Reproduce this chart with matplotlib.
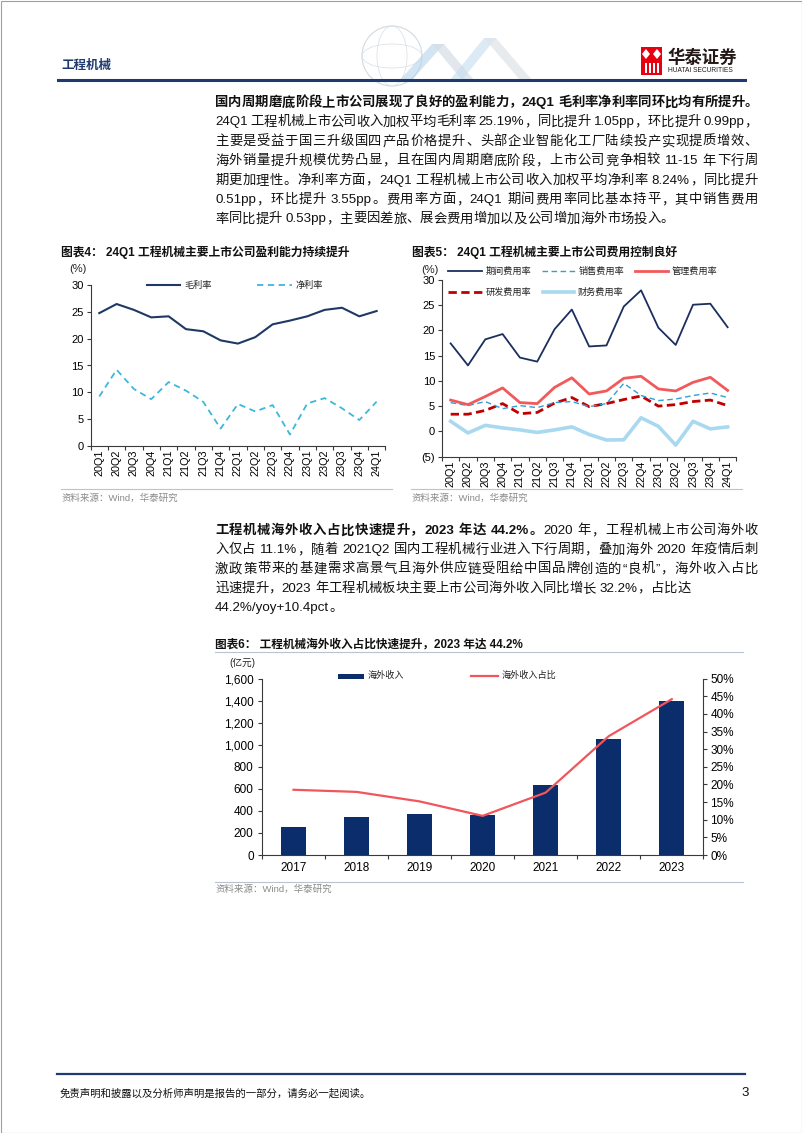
import re
import numpy as np
import matplotlib
matplotlib.use("Agg")
import matplotlib.pyplot as plt
from matplotlib.patches import Rectangle, Polygon, Circle, Ellipse
from matplotlib.lines import Line2D
from matplotlib.ticker import FixedLocator, FuncFormatter

W, H = 802, 1133
plt.rcParams['font.family'] = ['Liberation Sans', 'Noto Sans CJK SC']
plt.rcParams['axes.unicode_minus'] = False

# ---- data ----
quarters = ['20Q1', '20Q2', '20Q3', '20Q4', '21Q1', '21Q2', '21Q3', '21Q4',
            '22Q1', '22Q2', '22Q3', '22Q4', '23Q1', '23Q2', '23Q3', '23Q4', '24Q1']
gross_margin = [24.8, 26.5, 25.4, 24.0, 24.2, 21.8, 21.4, 19.7, 19.1, 20.3,
                22.7, 23.4, 24.2, 25.4, 25.8, 24.2, 25.19]
net_margin = [9.2, 14.2, 10.6, 8.7, 11.9, 10.3, 8.2, 3.2, 7.8, 6.4,
              7.6, 2.1, 7.9, 8.9, 7.0, 4.8, 8.24]

exp_total = [17.4, 13.05, 18.2, 19.25, 14.6, 13.8, 20.2, 24.1, 16.8, 17.0,
             24.7, 27.9, 20.5, 17.1, 25.05, 25.25, 20.6]
exp_sales = [5.7, 5.1, 5.9, 4.5, 5.1, 4.7, 5.7, 5.9, 4.9, 5.5,
             9.5, 7.1, 6.1, 6.4, 7.1, 7.6, 6.7]
exp_admin = [6.2, 5.3, 6.9, 8.6, 5.7, 5.5, 8.7, 10.6, 7.4, 8.0,
             10.5, 10.9, 8.4, 8.0, 9.7, 10.7, 8.1]
exp_rnd = [3.4, 3.4, 4.15, 5.5, 3.5, 3.75, 5.6, 6.7, 4.9, 5.5,
           6.3, 7.0, 5.0, 5.3, 5.9, 6.2, 5.1]
exp_fin = [2.0, -0.3, 1.2, 0.7, 0.3, -0.2, 0.3, 0.9, -0.6, -1.7,
           -1.65, 2.7, 1.0, -2.7, 2.0, 0.5, 0.9]

years = ['2017', '2018', '2019', '2020', '2021', '2022', '2023']
overseas_rev = [257, 342, 375, 360, 635, 1056, 1394]
overseas_share = [18.5, 17.9, 15.2, 11.1, 17.7, 33.7, 44.2]

para1 = [
    [("国内周期磨底阶段上市公司展现了良好的盈利能力，24Q1 毛利率净利率同环比均有所提升。", True)],
    [("24Q1 工程机械上市公司收入加权平均毛利率 25.19%，同比提升 1.05pp，环比提升 0.99pp，", False)],
    [("主要是受益于国三升级国四产品价格提升、头部企业智能化工厂陆续投产实现提质增效、", False)],
    [("海外销量提升规模优势凸显，且在国内周期磨底阶段，上市公司竞争相较 11-15 年下行周", False)],
    [("期更加理性。净利率方面，24Q1 工程机械上市公司收入加权平均净利率 8.24%，同比提升", False)],
    [("0.51pp，环比提升 3.55pp。费用率方面，24Q1 期间费用率同比基本持平，其中销售费用", False)],
    [("率同比提升 0.53pp，主要因差旅、展会费用增加以及公司增加海外市场投入。", False)],
]
para2 = [
    [("工程机械海外收入占比快速提升，2023 年达 44.2%。", True), ("2020 年，工程机械上市公司海外收", False)],
    [("入仅占 11.1%，随着 2021Q2 国内工程机械行业进入下行周期，叠加海外 2020 年疫情后刺", False)],
    [("激政策带来的基建需求高景气且海外供应链受阻给中国品牌创造的“良机”，海外收入占比", False)],
    [("迅速提升，2023 年工程机械板块主要上市公司海外收入同比增长 32.2%，占比达", False)],
    [("44.2%/yoy+10.4pct。", False)],
]

NAVY = '#1f3a6e'
SRC = '资料来源：Wind，华泰研究'

fig = plt.figure(figsize=(W / 100, H / 100), dpi=100)
bg = fig.add_axes([0, 0, 1, 1])
bg.set_xlim(0, W)
bg.set_ylim(H, 0)
bg.axis('off')
renderer = fig.canvas.get_renderer()


def px(x0, y0, x1, y1):
    return [x0 / W, 1 - y1 / H, (x1 - x0) / W, (y1 - y0) / H]


def write_line(x, y, segs, right=None, size=9.6, color='#111111'):
    items = []
    for s, bold in segs:
        for t in re.findall(r'[!-~]+|\s+|.', s):
            if t.isspace():
                items.append((None, 3.5))
                continue
            tx = bg.text(0, y, t, fontsize=size, color=color, va='center', ha='left',
                         fontweight='bold' if bold else 'normal')
            items.append((tx, tx.get_window_extent(renderer).width))
    total = sum(w for _, w in items)
    gap = 0.0
    if right is not None and len(items) > 1:
        gap = (right - x - total) / (len(items) - 1)
    cx = x
    for tx, w in items:
        if tx is not None:
            tx.set_x(cx)
        cx += w + gap


def hline(x0, x1, y, color='#b9c4d0', lw=0.8):
    bg.add_line(Line2D([x0, x1], [y, y], color=color, lw=lw))


# ---- page frame / header / footer ----
bg.add_patch(Rectangle((0.5, 0.5), W - 1, H - 1, fill=False, ec='#a0a0a0', lw=0.8))
# faint globe watermark
bg.add_patch(Circle((392, 56), 30, fill=False, ec='#d3d9e0', lw=0.8))
bg.add_patch(Ellipse((392, 56), 30, 60, fill=False, ec='#dde2e8', lw=0.6))
bg.add_patch(Ellipse((392, 56), 60, 24, fill=False, ec='#dde2e8', lw=0.6))
bg.add_patch(Polygon([(400, 80), (432, 44), (444, 44), (412, 80)], color='#b7d3ec', alpha=0.6, lw=0))
bg.add_patch(Polygon([(432, 44), (462, 80), (474, 80), (444, 44)], color='#d5dde6', alpha=0.7, lw=0))
bg.add_patch(Polygon([(450, 80), (484, 38), (496, 38), (462, 80)], color='#c5dcf0', alpha=0.6, lw=0))
bg.add_patch(Polygon([(484, 38), (520, 80), (532, 80), (496, 38)], color='#dfe3e8', alpha=0.7, lw=0))

bg.text(61, 66, '工程机械', fontsize=9, fontweight='bold', color=NAVY, va='center', ha='left')
hline(58, 745, 80, color=NAVY, lw=2.2)

# logo
bg.add_patch(Rectangle((641, 47), 21, 28, color='#e60012', lw=0))
for cx0 in (646, 657):
    bg.add_patch(Polygon([(cx0, 49), (cx0 + 4, 54), (cx0, 59), (cx0 - 4, 54)], color='white', lw=0))
for xs in (644.5, 648.5, 652.5, 656.5):
    bg.add_patch(Rectangle((xs, 63), 2, 10, color='white', lw=0))
bg.text(667, 57, '华泰证券', fontsize=12.5, fontweight='bold', color='#231815', va='center', ha='left')
bg.text(668, 71, 'HUATAI SECURITIES', fontsize=4.8, color='#231815', va='center', ha='left')

hline(57, 745, 1074, color=NAVY, lw=1.6)
bg.text(60, 1093, '免责声明和披露以及分析师声明是报告的一部分，请务必一起阅读。', fontsize=7.5,
        style='italic', color='#111111', va='center', ha='left')
bg.text(745, 1093, '3', fontsize=9.5, color='#111111', va='center', ha='center')

# ---- body text ----
for i, segs in enumerate(para1):
    write_line(215, 103 + i * 19.4, segs, right=None if i == len(para1) - 1 else 758)
for i, segs in enumerate(para2):
    write_line(215, 531 + i * 19.2, segs, right=None if i >= len(para2) - 2 else 758)


# ---- helpers for charts ----
def base_style(ax):
    for s in ('top', 'right'):
        ax.spines[s].set_visible(False)
    for s in ('left', 'bottom'):
        ax.spines[s].set_color('#3a3a3a')
        ax.spines[s].set_linewidth(0.8)
    ax.tick_params(axis='y', length=3, width=0.8, direction='out', pad=2, labelsize=8,
                   color='#3a3a3a')


def quarter_axis(ax, n):
    ax.set_xlim(-0.5, n - 0.5)
    ax.set_xticks(np.arange(n))
    ax.set_xticklabels(quarters, rotation=90, fontsize=7.8)
    ax.tick_params(axis='x', which='major', length=0, pad=3)
    ax.xaxis.set_minor_locator(FixedLocator(np.arange(-0.5, n, 1)))
    ax.tick_params(axis='x', which='minor', length=3, width=0.8, direction='out', color='#3a3a3a')


def legend_line(x0, x1, y, label, **kw):
    bg.add_line(Line2D([x0, x1], [y, y], **kw))
    bg.text(x1 + 4, y, label, fontsize=6.6, color='#222222', va='center', ha='left')


# ---- chart 4 ----
bg.text(61, 252, '图表4： 24Q1 工程机械主要上市公司盈利能力持续提升', fontsize=8.5,
        fontweight='bold', color='#111111', va='center', ha='left')
ax4 = fig.add_axes(px(90.6, 285.3, 385.3, 445.7), facecolor='none')
xq = np.arange(len(quarters))
ax4.plot(xq, gross_margin, color='#1f3864', lw=1.5)
ax4.plot(xq, net_margin, color='#3cb8dc', lw=1.3, dashes=(3.5, 2.5))
base_style(ax4)
ax4.set_ylim(0, 30)
ax4.set_yticks(range(0, 31, 5))
quarter_axis(ax4, len(quarters))
bg.text(78, 269, '(%)', fontsize=8, color='#222222', va='center', ha='center')
legend_line(146.7, 180, 285.3, '毛利率', color='#1f3864', lw=1.5)
legend_line(256.7, 291.7, 285.3, '净利率', color='#3cb8dc', lw=1.3, dashes=(3.5, 2.5))
hline(61, 392, 489)
bg.text(62, 498, SRC, fontsize=6.8, color='#8a8a8a', va='center', ha='left')

# ---- chart 5 ----
bg.text(412, 252, '图表5： 24Q1 工程机械主要上市公司费用控制良好', fontsize=8.5,
        fontweight='bold', color='#111111', va='center', ha='left')
ax5 = fig.add_axes(px(442, 279.7, 736.3, 456.7), facecolor='none')
st_total = dict(color='#1b2f5e', lw=1.3)
st_sales = dict(color='#2f9fd8', lw=1.0, dashes=(4, 2.5))
st_admin = dict(color='#f2595b', lw=2.0)
st_rnd = dict(color='#c00000', lw=2.0, dashes=(3, 1.6))
st_fin = dict(color='#a9d9f0', lw=2.6)
ax5.plot(xq, exp_fin, **st_fin)
ax5.plot(xq, exp_rnd, **st_rnd)
ax5.plot(xq, exp_sales, **st_sales)
ax5.plot(xq, exp_admin, **st_admin)
ax5.plot(xq, exp_total, **st_total)
base_style(ax5)
ax5.set_ylim(-5, 30)
ax5.set_yticks(range(-5, 31, 5))
ax5.yaxis.set_major_formatter(FuncFormatter(lambda v, p: f'({abs(int(v))})' if v < 0 else f'{int(v)}'))
quarter_axis(ax5, len(quarters))
bg.text(430, 270, '(%)', fontsize=8, color='#222222', va='center', ha='center')
legend_line(448, 481.7, 271, '期间费用率', **st_total)
legend_line(541.7, 575, 271, '销售费用率', **st_sales)
legend_line(635, 668, 271, '管理费用率', **st_admin)
legend_line(448, 481.7, 292.3, '研发费用率', **st_rnd)
legend_line(543, 574, 292.3, '财务费用率', **st_fin)
hline(411, 742, 489)
bg.text(412, 498, SRC, fontsize=6.8, color='#8a8a8a', va='center', ha='left')

# ---- chart 6 ----
bg.text(215, 645, '图表6： 工程机械海外收入占比快速提升，2023 年达 44.2%', fontsize=8.4,
        fontweight='bold', color='#111111', va='center', ha='left')
hline(215, 743, 651.5)
ax6 = fig.add_axes(px(262, 678.7, 703.3, 855), facecolor='none')
xy = np.arange(len(years))
ax6.bar(xy, overseas_rev, width=0.4, color='#0b2d6b')
ax6.set_xlim(-0.5, len(years) - 0.5)
ax6.set_ylim(0, 1600)
ax6.set_yticks(range(0, 1601, 200))
ax6.yaxis.set_major_formatter(FuncFormatter(lambda v, p: f'{int(v):,}'))
base_style(ax6)
ax6.tick_params(axis='y', labelsize=8.5, pad=3)
ax6.set_xticks(xy)
ax6.set_xticklabels(years, fontsize=8.5)
ax6.tick_params(axis='x', which='major', length=0, pad=5)
ax6.xaxis.set_minor_locator(FixedLocator(np.arange(-0.5, len(years), 1)))
ax6.tick_params(axis='x', which='minor', length=3, width=0.8, direction='out', color='#3a3a3a')

ax6r = ax6.twinx()
ax6r.plot(xy, overseas_share, color='#f0565c', lw=1.6)
ax6r.set_ylim(0, 50)
ax6r.set_yticks(range(0, 51, 5))
ax6r.yaxis.set_major_formatter(FuncFormatter(lambda v, p: f'{int(v)}%'))
for s in ('top', 'left', 'bottom'):
    ax6r.spines[s].set_visible(False)
ax6r.spines['right'].set_color('#3a3a3a')
ax6r.spines['right'].set_linewidth(0.8)
ax6r.tick_params(axis='y', length=3, width=0.8, direction='out', pad=2, labelsize=8.5,
                 color='#3a3a3a')

bg.text(242, 663, '(亿元)', fontsize=7, color='#222222', va='center', ha='center')
bg.add_patch(Rectangle((338, 673.5), 26, 5, color='#0b2d6b', lw=0))
bg.text(368, 675.7, '海外收入', fontsize=6.6, color='#222222', va='center', ha='left')
legend_line(471, 498, 675.7, '海外收入占比', color='#f0565c', lw=1.6)
hline(215, 743, 882)
bg.text(215, 889, SRC, fontsize=6.8, color='#8a8a8a', va='center', ha='left')

fig.savefig('out.png', dpi=100)
